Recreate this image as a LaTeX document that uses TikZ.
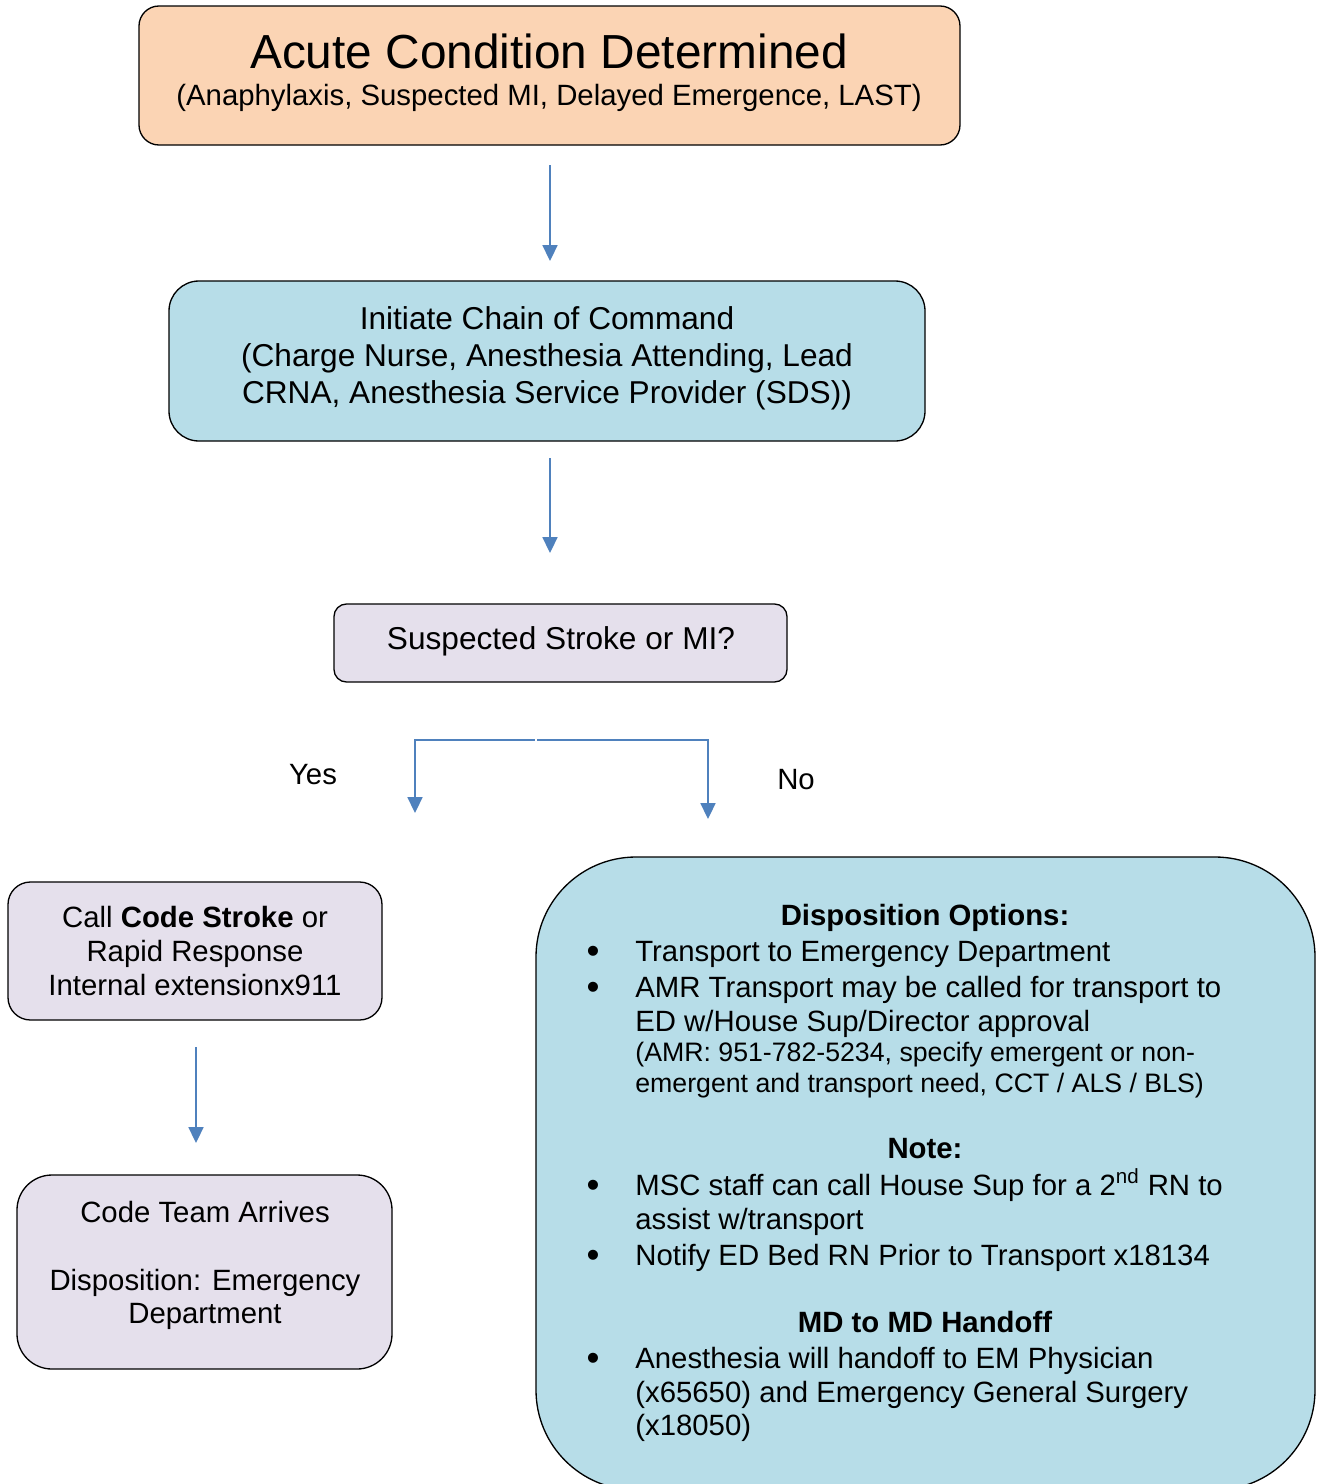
\documentclass[tikz,border=0pt]{standalone}
\usepackage{fontspec}
\setmainfont{Liberation Sans}
\usetikzlibrary{arrows.meta,fit}
\definecolor{peach}{HTML}{FBD4B4}
\definecolor{lblue}{HTML}{B7DDE8}
\definecolor{lav}{HTML}{E5E0EC}
\definecolor{arrblue}{HTML}{4F81BD}
\newcommand{\fsA}{\fontsize{27.2}{32}\selectfont}
\newcommand{\fsB}{\fontsize{16.7}{20}\selectfont}
\newcommand{\fsC}{\fontsize{18}{21}\selectfont}
\newcommand{\fsD}{\fontsize{15.2}{18}\selectfont}
\newcommand{\fsE}{\fontsize{21}{24}\selectfont}
\begin{document}
\begin{tikzpicture}[x=0.02cm,y=-0.02cm,
  boxbase/.style={draw=black,line width=0.75pt,inner sep=0pt},
  peachbox/.style={boxbase,fill=peach,rounded corners=0.4cm},
  bluebox/.style={boxbase,fill=lblue,rounded corners=0.6cm},
  lavbox/.style={boxbase,fill=lav,rounded corners=0.45cm},
  bigbox/.style={boxbase,fill=lblue,rounded corners=2cm},
  txt/.style={anchor=base,inner sep=0pt,font=\fsB},
  txtl/.style={anchor=base west,inner sep=0pt,font=\fsB},
  small/.style={anchor=base west,inner sep=0pt,font=\fsD},
  bul/.style={anchor=base,inner sep=0pt,font=\fsE},
  arr/.style={draw=arrblue,line width=1pt,-{Triangle[width=8.5pt,length=9pt]}},
  link/.style={draw=arrblue,line width=1pt}]
\useasboundingbox (0,0) rectangle (1319,1484);
% boxes
\node[peachbox,fit={(139,6) (960,145)}] (b1) {};
\node[bluebox,fit={(169,281) (925,441)}] (b2) {};
\node[lavbox,rounded corners=0.25cm,fit={(334,604) (787,682)}] (b3) {};
\node[lavbox,fit={(8,882) (382,1020)}] (b4) {};
\node[lavbox,rounded corners=0.7cm,fit={(17,1175) (392,1369)}] (b5) {};
\begin{scope}
\clip (0,0) rectangle (1319,1484);
\node[bigbox,fit={(536,857) (1315,1490)}] (b6) {};
\end{scope}
% box 1 text
\node[txt,font=\fsA] (t1a) at (549,68) {Acute Condition Determined};
\node[txt] (t1b) at (549,105) {(Anaphylaxis, Suspected MI, Delayed Emergence, LAST)};
% box 2 text
\node[txt,font=\fsC] (t2a) at (547,329) {Initiate Chain of Command};
\node[txt,font=\fsC] (t2b) at (547,366) {(Charge Nurse, Anesthesia Attending, Lead};
\node[txt,font=\fsC] (t2c) at (547,403) {CRNA, Anesthesia Service Provider (SDS))};
% box 3
\node[txt,font=\fsC] (t3) at (561,649) {Suspected Stroke or MI?};
% yes / no
\node[txt] (yes) at (313,784) {Yes};
\node[txt] (no) at (796,789) {No};
% box 4
\node[txt] (t4a) at (195,927) {Call \textbf{Code Stroke} or};
\node[txt] (t4b) at (195,961) {Rapid Response};
\node[txt] (t4c) at (195,995) {Internal extensionx911};
% box 5
\node[txt] (t5a) at (205,1222) {Code Team Arrives};
\node[txt] (t5b) at (205,1290) {Disposition: Emergency};
\node[txt] (t5c) at (205,1323) {Department};
% box 6
\node[txt,font=\fsB\bfseries] (h1) at (925,925) {Disposition Options:};
\node[bul] (u1) at (593,963) {\textbullet};
\node[txtl] (l1) at (635,961) {Transport to Emergency Department};
\node[bul] (u2) at (593,999) {\textbullet};
\node[txtl] (l2) at (635,997) {AMR Transport may be called for transport to};
\node[txtl] (l3) at (635,1031) {ED w/House Sup/Director approval};
\node[small] (l4) at (635,1061) {(AMR: 951-782-5234, specify emergent or non-};
\node[small] (l5) at (635,1092) {emergent and transport need, CCT / ALS / BLS)};
\node[txt,font=\fsB\bfseries] (h2) at (925,1158) {Note:};
\node[bul] (u3) at (593,1197) {\textbullet};
\node[txtl] (l6) at (635,1195) {MSC staff can call House Sup for a 2\textsuperscript{nd} RN to};
\node[txtl] (l7) at (635,1229) {assist w/transport};
\node[bul] (u4) at (593,1267) {\textbullet};
\node[txtl] (l8) at (635,1265) {Notify ED Bed RN Prior to Transport x18134};
\node[txt,font=\fsB\bfseries] (h3) at (925,1332) {MD to MD Handoff};
\node[bul] (u5) at (593,1370) {\textbullet};
\node[txtl] (l9) at (635,1368) {Anesthesia will handoff to EM Physician};
\node[txtl] (l10) at (635,1402) {(x65650) and Emergency General Surgery};
\node[txtl] (l11) at (635,1435) {(x18050)};
% connectors
\coordinate (a1s) at (550,165);
\coordinate (a1e) at (550,261);
\coordinate (a2s) at (550,458);
\coordinate (a2e) at (550,553);
\coordinate (split) at (536,740);
\coordinate (yescorner) at (415,740);
\coordinate (yestip) at (415,813);
\coordinate (nocorner) at (708,740);
\coordinate (notip) at (708,819);
\coordinate (a3s) at (196,1047);
\coordinate (a3e) at (196,1143);
\draw[arr] (a1s) -- (a1e);
\draw[arr] (a2s) -- (a2e);
\draw[arr,shorten <=0.6pt] (split) -- (yescorner) -- (yestip);
\draw[arr,shorten <=0.6pt] (split) -- (nocorner) -- (notip);
\draw[arr] (a3s) -- (a3e);
\end{tikzpicture}
\end{document}
